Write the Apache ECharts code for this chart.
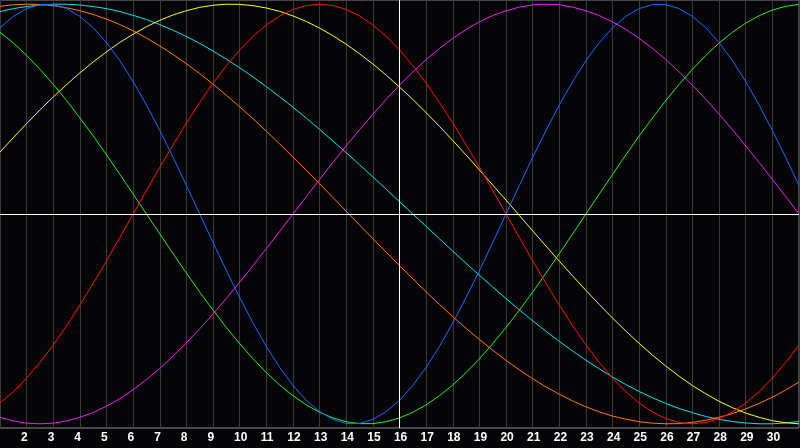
<!DOCTYPE html>
<html>
<head>
<meta charset="utf-8">
<script src="https://cdn.jsdelivr.net/npm/echarts@6/dist/echarts.min.js"></script>
<style>
html,body{margin:0;padding:0;background:#050508;}
#chart{width:800px;height:448px;}
</style>
</head>
<body>
<div id="chart"></div>
<script>
// sample positions (days, every half day)
const days = [1,1.5,2,2.5,3,3.5,4,4.5,5,5.5,6,6.5,7,7.5,8,8.5,9,9.5,10,10.5,11,11.5,12,12.5,13,13.5,14,14.5,15,15.5,16,16.5,17,17.5,18,18.5,19,19.5,20,20.5,21,21.5,22,22.5,23,23.5,24,24.5,25,25.5,26,26.5,27,27.5,28,28.5,29,29.5,30,30.5,31];
const labelDays = [2,3,4,5,6,7,8,9,10,11,12,13,14,15,16,17,18,19,20,21,22,23,24,25,26,27,28,29,30];
const todayDay = 16;
const zeroLevel = 0;

const blueValues = [0.888,0.942,0.979,0.998,0.998,0.979,0.942,0.888,0.817,0.731,0.631,0.520,0.398,0.270,0.136,0,-0.136,-0.270,-0.398,-0.520,-0.631,-0.731,-0.817,-0.888,-0.942,-0.979,-0.998,-0.998,-0.979,-0.942,-0.888,-0.817,-0.731,-0.631,-0.520,-0.398,-0.270,-0.136,0,0.136,0.270,0.398,0.520,0.631,0.731,0.817,0.888,0.942,0.979,0.998,0.998,0.979,0.942,0.888,0.817,0.731,0.631,0.520,0.398,0.270,0.136];
const redValues = [-0.901,-0.847,-0.782,-0.707,-0.624,-0.532,-0.434,-0.330,-0.223,-0.112,0,0.112,0.223,0.330,0.434,0.532,0.624,0.707,0.782,0.847,0.901,0.944,0.975,0.994,1,0.994,0.975,0.944,0.901,0.847,0.782,0.707,0.624,0.532,0.434,0.330,0.223,0.112,0,-0.112,-0.223,-0.330,-0.434,-0.532,-0.624,-0.707,-0.782,-0.847,-0.901,-0.944,-0.975,-0.994,-1,-0.994,-0.975,-0.944,-0.901,-0.847,-0.782,-0.707,-0.624];
const greenValues = [0.866,0.815,0.756,0.690,0.618,0.541,0.458,0.372,0.282,0.189,0.095,0,-0.095,-0.189,-0.282,-0.372,-0.458,-0.541,-0.618,-0.690,-0.756,-0.815,-0.866,-0.910,-0.945,-0.972,-0.990,-0.999,-0.999,-0.990,-0.972,-0.945,-0.910,-0.866,-0.815,-0.756,-0.690,-0.618,-0.541,-0.458,-0.372,-0.282,-0.189,-0.095,0,0.095,0.189,0.282,0.372,0.458,0.541,0.618,0.690,0.756,0.815,0.866,0.910,0.945,0.972,0.990,0.999];
const magentaValues = [-0.969,-0.986,-0.997,-1,-0.997,-0.986,-0.969,-0.946,-0.916,-0.880,-0.837,-0.789,-0.736,-0.677,-0.614,-0.547,-0.476,-0.402,-0.325,-0.246,-0.165,-0.083,0,0.083,0.165,0.246,0.325,0.402,0.476,0.547,0.614,0.677,0.736,0.789,0.837,0.880,0.916,0.946,0.969,0.986,0.997,1,0.997,0.986,0.969,0.946,0.916,0.880,0.837,0.789,0.736,0.677,0.614,0.547,0.476,0.402,0.325,0.246,0.165,0.083,0];
const yellowValues = [0.295,0.364,0.431,0.496,0.558,0.617,0.673,0.725,0.773,0.818,0.857,0.893,0.923,0.949,0.969,0.985,0.995,1.000,0.999,0.993,0.982,0.966,0.944,0.918,0.886,0.850,0.809,0.764,0.715,0.662,0.605,0.546,0.483,0.418,0.350,0.281,0.210,0.138,0.066,-0.007,-0.080,-0.153,-0.225,-0.295,-0.364,-0.431,-0.496,-0.558,-0.617,-0.673,-0.725,-0.773,-0.818,-0.857,-0.893,-0.923,-0.949,-0.969,-0.985,-0.995,-1.000];
const orangeValues = [0.990,0.997,1.000,0.999,0.993,0.983,0.969,0.951,0.929,0.903,0.873,0.839,0.801,0.760,0.716,0.669,0.619,0.566,0.511,0.454,0.395,0.334,0.271,0.208,0.144,0.079,0.013,-0.052,-0.118,-0.182,-0.246,-0.309,-0.371,-0.431,-0.489,-0.545,-0.598,-0.649,-0.698,-0.743,-0.785,-0.824,-0.859,-0.891,-0.919,-0.943,-0.963,-0.978,-0.990,-0.997,-1.000,-0.999,-0.993,-0.983,-0.969,-0.951,-0.929,-0.903,-0.873,-0.839,-0.801];
const cyanValues = [0.965,0.979,0.989,0.996,1.000,1.000,0.996,0.989,0.979,0.965,0.947,0.927,0.903,0.876,0.846,0.813,0.777,0.738,0.697,0.653,0.607,0.559,0.509,0.457,0.403,0.348,0.292,0.235,0.177,0.118,0.059,0,-0.059,-0.118,-0.177,-0.235,-0.292,-0.348,-0.403,-0.457,-0.509,-0.559,-0.607,-0.653,-0.697,-0.738,-0.777,-0.813,-0.846,-0.876,-0.903,-0.927,-0.947,-0.965,-0.979,-0.989,-0.996,-1.000,-1.000,-0.996,-0.989];

const seriesDefs = [
  {name:'cyan', values: cyanValues, color:'#00e5ee'},
  {name:'orange', values: orangeValues, color:'#ff7a00'},
  {name:'yellow', values: yellowValues, color:'#ffff00'},
  {name:'magenta', values: magentaValues, color:'#f020f0'},
  {name:'green', values: greenValues, color:'#22f022'},
  {name:'red', values: redValues, color:'#ff1010'},
  {name:'blue', values: blueValues, color:'#1a6aff'}
];

const chart = echarts.init(document.getElementById('chart'), null, {renderer:'canvas'});

const series = seriesDefs.map(function(s){
  return {
    name: s.name,
    type: 'line',
    xAxisIndex: 0,
    yAxisIndex: 0,
    smooth: false,
    symbol: 'none',
    silent: true,
    animation: false,
    lineStyle: {color: s.color, width: 1},
    data: days.map(function(d, i){ return [d, s.values[i]]; }),
    z: 3
  };
});

series.unshift({
  name: 'ref',
  type: 'line',
  xAxisIndex: 0,
  yAxisIndex: 0,
  data: [],
  symbol: 'none',
  silent: true,
  animation: false,
  z: 2,
  markLine: {
    symbol: 'none',
    silent: true,
    animation: false,
    label: {show: false},
    lineStyle: {color: '#ffffff', type: 'solid', width: 1},
    data: [{yAxis: zeroLevel}, {xAxis: todayDay}]
  }
});

const labelShift = 0.21;

chart.setOption({
  backgroundColor: '#050508',
  animation: false,
  grid: {
    left: 0, top: 0, width: 799, height: 428,
    show: true, borderColor: '#8c8c8c', borderWidth: 1, backgroundColor: 'transparent'
  },
  xAxis: [
    {
      type: 'value', min: 1, max: 31, interval: 1,
      position: 'bottom',
      axisLine: {show: false}, axisTick: {show: false}, axisLabel: {show: false},
      splitLine: {show: true, lineStyle: {color: '#3a3a3a', width: 1}}
    },
    {
      type: 'value', min: 1, max: 31,
      position: 'bottom', offset: 0,
      axisLine: {show: false}, axisTick: {show: false}, splitLine: {show: false},
      axisLabel: {
        show: true,
        customValues: labelDays.map(function(d){ return d - labelShift; }),
        formatter: function(v){ return String(Math.round(v + labelShift)); },
        align: 'left',
        color: '#ffffff',
        fontWeight: 'bold',
        fontFamily: 'Liberation Sans',
        fontSize: 12,
        margin: 4
      }
    }
  ],
  yAxis: {
    type: 'value', min: -1.02, max: 1.02,
    axisLine: {show: false}, axisTick: {show: false}, axisLabel: {show: false},
    splitLine: {show: false}
  },
  series: series
});
</script>
</body>
</html>
